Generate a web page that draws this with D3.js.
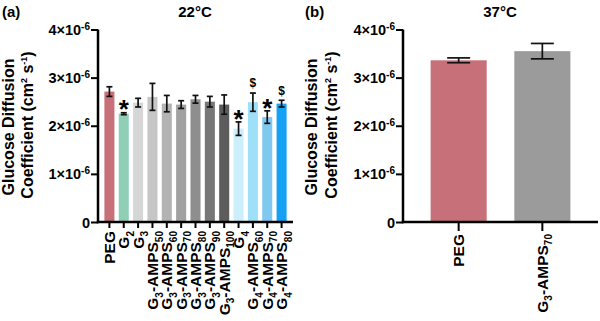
<!DOCTYPE html>
<html><head><meta charset="utf-8">
<script src="https://cdn.jsdelivr.net/npm/d3@7/dist/d3.min.js"></script>
<style>body{margin:0;background:#fff}svg{display:block;font-family:"Liberation Sans",Arial,sans-serif;font-weight:bold}</style>
</head><body><svg id="c" width="600" height="321"></svg>
<script>
// Panel (a) 22°C
const catsA = ["PEG","G{2}","G{3}","G{3}-AMPS{50}","G{3}-AMPS{60}","G{3}-AMPS{70}","G{3}-AMPS{80}","G{3}-AMPS{90}","G{3}-AMPS{100}","G{4}","G{4}-AMPS{60}","G{4}-AMPS{70}","G{4}-AMPS{80}"];
const meanA = [2.71e-6,2.25e-6,2.48e-6,2.60e-6,2.46e-6,2.44e-6,2.55e-6,2.50e-6,2.44e-6,1.94e-6,2.49e-6,2.18e-6,2.46e-6];
const errA  = [0.10e-6,0.02e-6,0.09e-6,0.28e-6,0.17e-6,0.08e-6,0.08e-6,0.11e-6,0.20e-6,0.14e-6,0.19e-6,0.13e-6,0.07e-6];
const colorA = ["#c7707a","#8fcfb6","#d6d6d6","#c6c6c6","#b3b3b3","#a1a1a1","#8e8e8e","#777777","#5c5c5c","#cdeffb","#9fe0f9","#7fc8ef","#16a2f4"];
const markA = ["","*","","","","","","","","*","$","*","$"];
// Panel (b) 37°C
const catsB = ["PEG","G{3}-AMPS{70}"];
const meanB = [3.36e-6,3.55e-6];
const errB  = [0.05e-6,0.16e-6];
const colorB = ["#c7707a","#9b9b9b"];
const yTicks = [0,1e-6,2e-6,3e-6,4e-6];

const svg = d3.select("#c");

function richText(sel, label, subSize, subDy){
  const parts = label.split(/(\{[^}]*\})/).filter(s=>s.length);
  let shifted = false;
  parts.forEach(p=>{
    if(p[0]==="{"){
      sel.append("tspan").attr("font-size",subSize).attr("dy",subDy).text(p.slice(1,-1));
      shifted = true;
    } else {
      const t = sel.append("tspan").text(p);
      if(shifted){ t.attr("dy",-subDy); shifted=false; }
    }
  });
}

function panel(cfg){
  const {cats, mean, err, colors, marks, x0, x1, y0, y1, padIn, padOut, capW, title, letter, titleX, letterX, ytitleX} = cfg;
  const y = d3.scaleLinear().domain([0,4e-6]).range([y0,y1]);
  const x = d3.scaleBand().domain(cats).range([x0,x1]).paddingInner(padIn).paddingOuter(padOut);
  const g = svg.append("g");
  g.selectAll("rect.bar").data(cats).join("rect")
    .attr("x",d=>x(d)).attr("width",x.bandwidth())
    .attr("y",(d,i)=>y(mean[i])).attr("height",(d,i)=>y(0)-y(mean[i]))
    .attr("fill",(d,i)=>colors[i]);
  const eb = g.selectAll("g.eb").data(cats).join("g").attr("stroke","#111").attr("stroke-width",1.7);
  eb.append("line").attr("x1",d=>x(d)+x.bandwidth()/2).attr("x2",d=>x(d)+x.bandwidth()/2)
    .attr("y1",(d,i)=>y(mean[i]+err[i])).attr("y2",(d,i)=>y(mean[i]-err[i]));
  eb.append("line").attr("x1",d=>x(d)+x.bandwidth()/2-capW).attr("x2",d=>x(d)+x.bandwidth()/2+capW)
    .attr("y1",(d,i)=>y(mean[i]+err[i])).attr("y2",(d,i)=>y(mean[i]+err[i]));
  eb.append("line").attr("x1",d=>x(d)+x.bandwidth()/2-capW).attr("x2",d=>x(d)+x.bandwidth()/2+capW)
    .attr("y1",(d,i)=>y(mean[i]-err[i])).attr("y2",(d,i)=>y(mean[i]-err[i]));
  if(marks){
    cats.forEach((d,i)=>{
      if(!marks[i]) return;
      const top = y(mean[i]+err[i]);
      if(marks[i]==="*"){
        g.append("text").attr("x",x(d)+x.bandwidth()/2).attr("y",top-13).attr("dy","0.72em")
          .attr("text-anchor","middle").attr("font-size",26).text("*");
      } else {
        g.append("text").attr("x",x(d)+x.bandwidth()/2).attr("y",top-10).attr("dy","0.36em")
          .attr("text-anchor","middle").attr("font-size",12).text("$");
      }
    });
  }
  const ya = g.append("g").attr("transform",`translate(${x0},0)`)
    .call(d3.axisLeft(y).tickValues(yTicks).tickSize(7).tickPadding(3).tickFormat(()=>""))
    .attr("font-family",null).attr("font-size",null);
  ya.select(".domain").attr("stroke","#000").attr("stroke-width",2.5).attr("d",`M0,${y1}V${y0+1.2}`);
  ya.selectAll(".tick line").attr("stroke","#000").attr("stroke-width",2);
  ya.selectAll(".tick text").each(function(v){
    const t = d3.select(this).attr("font-size",14.5).attr("fill","#000").attr("x",-8).attr("dy","0.35em");
    if(v===0){ t.append("tspan").text("0"); }
    else {
      t.append("tspan").text(`${Math.round(v/1e-6)}×10`);
      t.append("tspan").attr("font-size",10).attr("dy",-5.5).text("-6");
    }
  });
  const xa = g.append("g").attr("transform",`translate(0,${y0})`)
    .call(d3.axisBottom(x).tickSize(cfg.xTick).tickFormat(()=>""))
    .attr("font-family",null).attr("font-size",null);
  xa.select(".domain").attr("stroke","#000").attr("stroke-width",2.5).attr("d",`M${x0-1.2},0H${x1}`);
  xa.selectAll(".tick line").attr("stroke","#000").attr("stroke-width",2);
  xa.selectAll(".tick text").remove();
  cats.forEach(d=>{
    const t = g.append("text").attr("text-anchor","end").attr("font-size",15.5)
      .attr("transform",`translate(${x(d)+x.bandwidth()/2},${y0+cfg.xTick+3}) rotate(-90)`).attr("dy","0.36em");
    richText(t, d, 10, 4.5);
  });
  const yt = g.append("text").attr("text-anchor","middle").attr("font-size",16)
    .attr("transform",`translate(${ytitleX},127) rotate(-90)`);
  yt.text("Glucose Diffusion");
  const yt2 = g.append("text").attr("text-anchor","middle").attr("font-size",16)
    .attr("transform",`translate(${ytitleX+19.5},125) rotate(-90)`);
  yt2.append("tspan").text("Coefficient (cm");
  yt2.append("tspan").attr("font-size",9).attr("dy",-6).text("2");
  yt2.append("tspan").attr("dy",6).text(" s");
  yt2.append("tspan").attr("font-size",9).attr("dy",-6).text("-1");
  yt2.append("tspan").attr("dy",6).text(")");
  svg.append("text").attr("x",titleX).attr("y",17).attr("text-anchor","middle").attr("font-size",15).text(title);
  svg.append("text").attr("x",letterX).attr("y",17).attr("font-size",15).text(letter);
}

panel({cats:catsA, mean:meanA, err:errA, colors:colorA, marks:markA, x0:98, x1:293, y0:222, y1:29.5,
  padIn:0.3, padOut:0.445, capW:3, title:"22°C", letter:"(a)", titleX:195, letterX:2, ytitleX:13.5, xTick:6});
panel({cats:catsB, mean:meanB, err:errB, colors:colorB, marks:null, x0:403, x1:598, y0:222, y1:29.5,
  padIn:0.33, padOut:0.33, capW:11.5, title:"37°C", letter:"(b)", titleX:500, letterX:305, ytitleX:317, xTick:9});
</script></body></html>
